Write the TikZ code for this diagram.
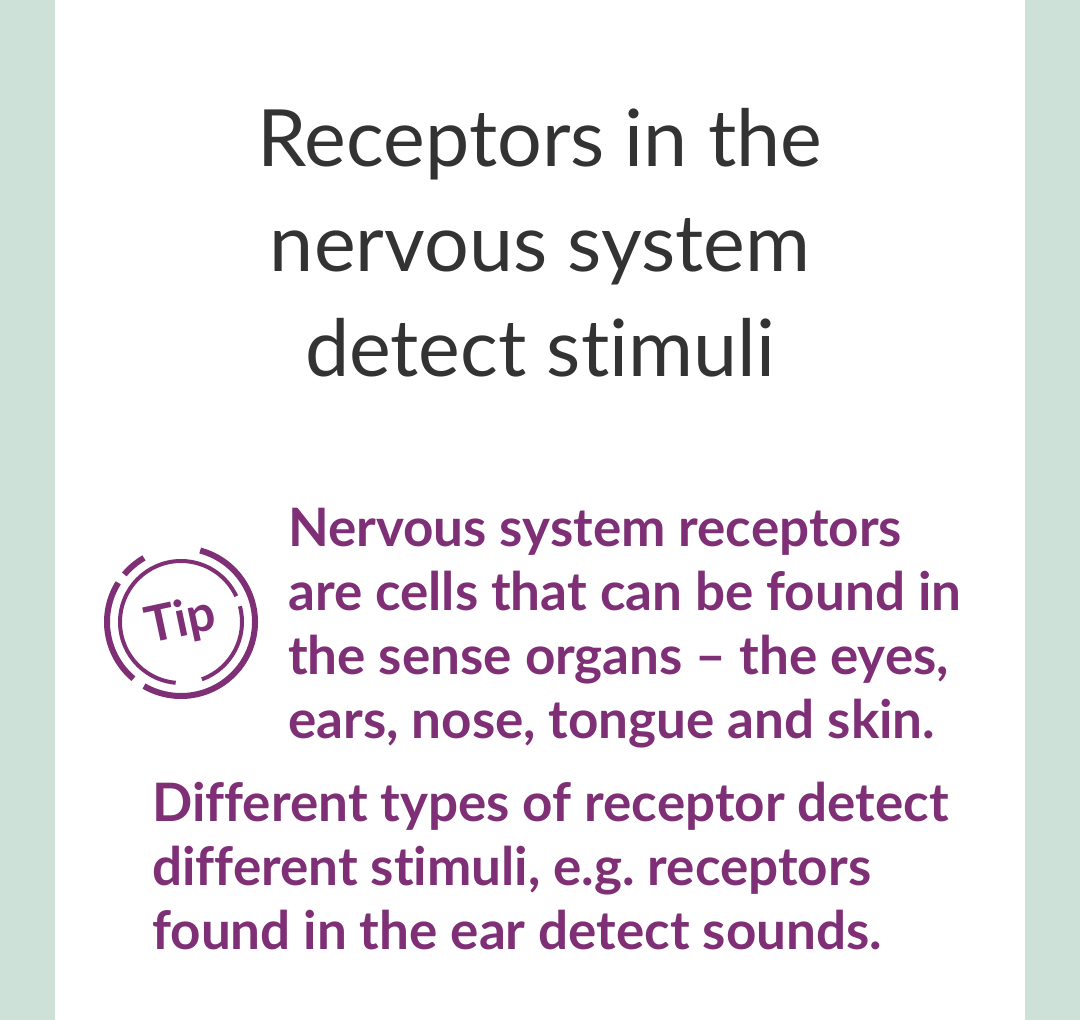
\documentclass[tikz,border=0pt]{standalone}
\usepackage{fontspec}
\setmainfont{Lato}[Ligatures=NoCommon]
\frenchspacing
\definecolor{tipPurple}{HTML}{7E2F76}
\definecolor{sideGreen}{HTML}{CDE1D8}
\definecolor{titleGrey}{HTML}{333333}
\begin{document}
\begin{tikzpicture}[x=1pt,y=-1pt,
    title/.style={font=\fontsize{79}{105}\selectfont, text=titleGrey, align=center},
    tiptext/.style={font=\bfseries\fontsize{53}{64}\selectfont, text=tipPurple, align=left, inner sep=0pt, anchor=north west}]
    \useasboundingbox (0,0) rectangle (1080,1020);
    \fill[sideGreen] (0,0) rectangle (55,1020);
    \fill[sideGreen] (1025,0) rectangle (1080,1020);

    \node[title] (title) at (540,243) {Receptors in the\\nervous system\\detect stimuli};

    % tip badge
    \coordinate (badge) at (181,622);
    \draw[tipPurple, line width=6pt] (badge) ++(-75:74) arc[start angle=-75, end angle=120, radius=74];
    \draw[tipPurple, line width=6pt] (badge) ++(130:74) arc[start angle=130, end angle=212, radius=74];
    \draw[tipPurple, line width=6pt] (badge) ++(220:74) arc[start angle=220, end angle=240, radius=74];
    \draw[tipPurple, line width=4pt] (badge) ++(95:61) arc[start angle=95, end angle=335, radius=61];
    \draw[tipPurple, line width=4pt] (badge) ++(345:61) arc[start angle=345, end angle=430, radius=61];
    \node[rotate=12, text=tipPurple, font=\bfseries\fontsize{50}{50}\selectfont, inner sep=0pt] (tip) at (badge) {Tip};

    \node[tiptext] (note) at (288,508) {Nervous system receptors\\are cells that can be found in\\the sense organs -- the eyes,\\ears, nose, tongue and skin.};
    \node[tiptext] (detail) at (152,782) {Different types of receptor detect\\different stimuli, e.g. receptors\\found in the ear detect sounds.};
\end{tikzpicture}
\end{document}
